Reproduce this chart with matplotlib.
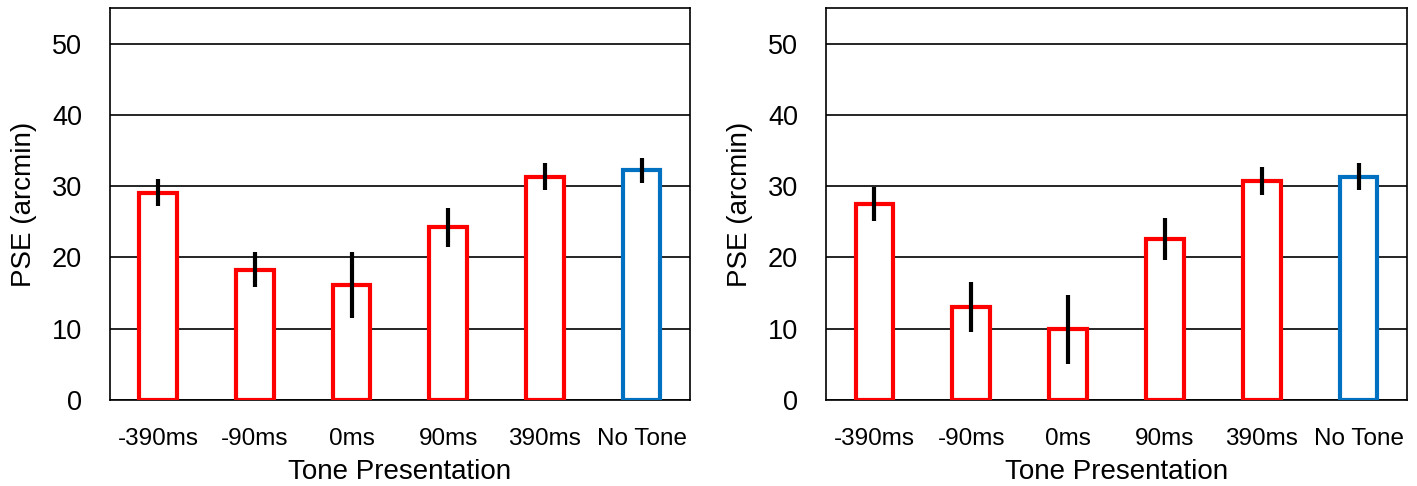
import numpy as np
import matplotlib
matplotlib.use("Agg")
import matplotlib.pyplot as plt

plt.rcParams['font.family'] = ['Liberation Sans', 'DejaVu Sans']

# tone conditions
conditions = ["-390ms", "-90ms", "0ms", "90ms", "390ms", "No Tone"]

# left panel
pse_left = [29.1, 18.3, 16.1, 24.2, 31.3, 32.2]
err_left = [1.9, 2.4, 4.6, 2.8, 1.9, 1.75]

# right panel
pse_right = [27.5, 13.1, 9.9, 22.6, 30.7, 31.3]
err_right = [2.35, 3.5, 4.8, 2.9, 1.95, 1.9]

edge_colors = ["#FF0000"] * 5 + ["#0070C0"]

fig = plt.figure(figsize=(14.17, 4.86), dpi=100)
ax1 = fig.add_axes([0.0776, 0.177, 0.4093, 0.8066])
ax2 = fig.add_axes([0.5829, 0.177, 0.4100, 0.8066])


def panel(ax, vals, errs):
    x = np.arange(len(conditions))
    ax.bar(x, vals, width=0.39, color="white", edgecolor=edge_colors,
           linewidth=3.0, zorder=3)
    ax.errorbar(x, vals, yerr=errs, fmt="none", ecolor="black",
                elinewidth=3.0, capsize=0, zorder=4)
    ax.set_xlim(-0.5, 5.5)
    ax.set_ylim(0, 55)
    ax.set_yticks([0, 10, 20, 30, 40, 50])
    ax.yaxis.grid(True, color="black", linewidth=1.2, zorder=0)
    ax.set_axisbelow(True)
    ax.set_xticks(x)
    ax.set_xticklabels(conditions, fontsize=17.5)
    ax.tick_params(axis="x", direction="in", length=4, width=1.2, pad=20)
    ax.tick_params(axis="y", length=0, labelsize=19.5, pad=20)
    for s in ax.spines.values():
        s.set_linewidth(1.2)
        s.set_color("black")
    ax.set_xlabel("Tone Presentation", fontsize=20, labelpad=7)
    ax.set_ylabel("PSE (arcmin)", fontsize=20, labelpad=11)


panel(ax1, pse_left, err_left)
panel(ax2, pse_right, err_right)

fig.savefig("out.png", dpi=100)
